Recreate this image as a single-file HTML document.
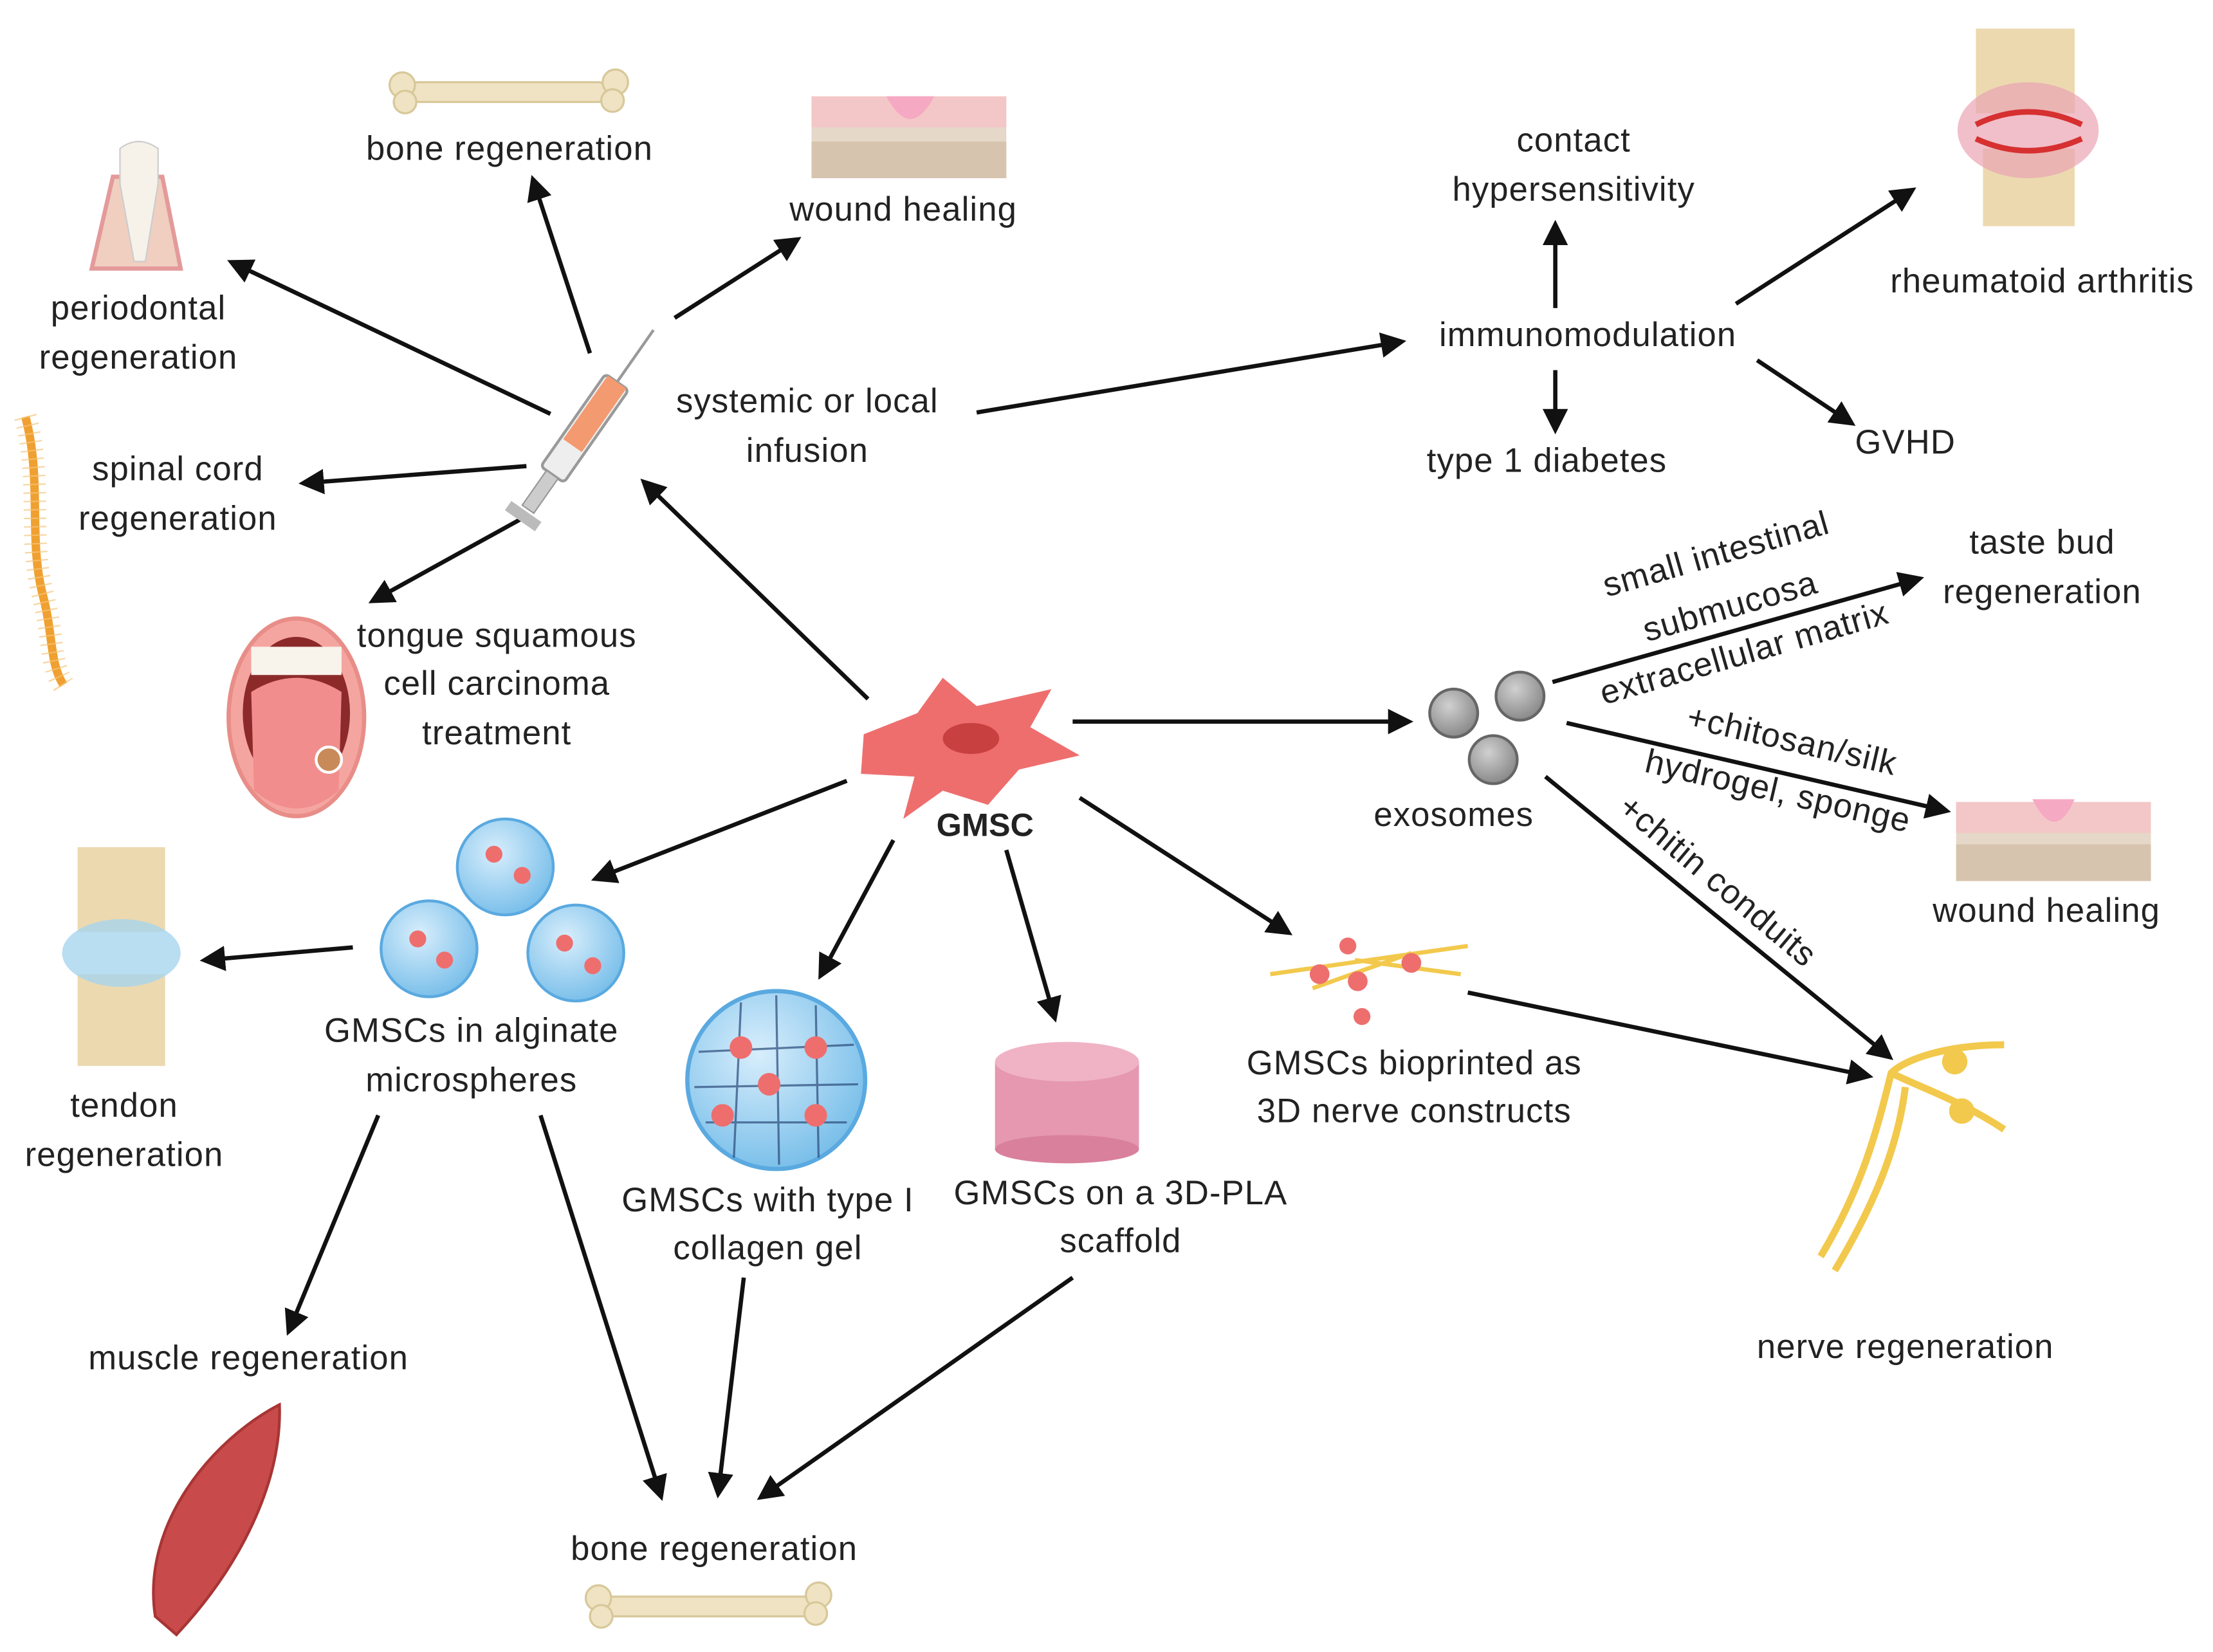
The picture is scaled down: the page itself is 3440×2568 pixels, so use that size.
<!DOCTYPE html>
<html><head><meta charset="utf-8"><style>
html,body{margin:0;padding:0;background:#fff;}
svg{display:block;}
text{font-family:"Liberation Sans",sans-serif;font-size:24px;letter-spacing:0.5px;fill:#222;text-anchor:middle;}
.ln{stroke:#111;stroke-width:3;fill:none;marker-end:url(#ah);}
</style></head><body>
<svg width="3440" height="2568" viewBox="0 0 1568 1170" xmlns="http://www.w3.org/2000/svg">
<defs>
<marker id="ah" markerWidth="6" markerHeight="6" refX="4.5" refY="3" orient="auto" markerUnits="strokeWidth">
<path d="M0,0 L6,3 L0,6 z" fill="#111"/></marker>
<radialGradient id="sph" cx="40%" cy="35%" r="65%"><stop offset="0" stop-color="#d8eefc"/><stop offset="1" stop-color="#7cc0ea"/></radialGradient>
<radialGradient id="gr" cx="40%" cy="35%" r="65%"><stop offset="0" stop-color="#d0d0d0"/><stop offset="1" stop-color="#8a8a8a"/></radialGradient>
</defs>
<rect width="1568" height="1170" fill="#fff"/>

<line class="ln" x1="418" y1="250" x2="378" y2="128"/>
<line class="ln" x1="390" y1="293" x2="165" y2="186"/>
<line class="ln" x1="478" y1="225" x2="564" y2="170"/>
<line class="ln" x1="373" y1="330" x2="216" y2="342"/>
<line class="ln" x1="370" y1="367" x2="265" y2="425"/>
<line class="ln" x1="615" y1="495" x2="457" y2="342"/>
<line class="ln" x1="692" y1="292" x2="992" y2="242"/>
<line class="ln" x1="1102" y1="218" x2="1102" y2="160"/>
<line class="ln" x1="1102" y1="262" x2="1102" y2="303"/>
<line class="ln" x1="1230" y1="215" x2="1354" y2="135"/>
<line class="ln" x1="1245" y1="255" x2="1311" y2="299"/>
<line class="ln" x1="760" y1="511" x2="997" y2="511"/>
<line class="ln" x1="1100" y1="483" x2="1359" y2="410"/>
<line class="ln" x1="1110" y1="512" x2="1378" y2="574"/>
<line class="ln" x1="1095" y1="550" x2="1338" y2="748"/>
<line class="ln" x1="1040" y1="703" x2="1323" y2="762"/>
<line class="ln" x1="765" y1="565" x2="912" y2="660"/>
<line class="ln" x1="713" y1="602" x2="747" y2="720"/>
<line class="ln" x1="633" y1="595" x2="582" y2="690"/>
<line class="ln" x1="600" y1="553" x2="423" y2="622"/>
<line class="ln" x1="250" y1="671" x2="146" y2="680"/>
<line class="ln" x1="268" y1="790" x2="205" y2="942"/>
<line class="ln" x1="383" y1="790" x2="468" y2="1059"/>
<line class="ln" x1="527" y1="905" x2="509" y2="1057"/>
<line class="ln" x1="760" y1="905" x2="540" y2="1060"/>

<g fill="#efe3c3" stroke="#d8c89a" stroke-width="1.5">
<rect x="290" y="58" width="140" height="14" rx="6"/>
<circle cx="285" cy="60" r="9"/><circle cx="287" cy="72" r="8"/>
<circle cx="436" cy="58" r="9"/><circle cx="434" cy="71" r="8"/>
</g>
<g fill="#efe3c3" stroke="#d8c89a" stroke-width="1.5">
<rect x="428" y="1131" width="148" height="14" rx="6"/>
<circle cx="424" cy="1132" r="9"/><circle cx="426" cy="1145" r="8"/>
<circle cx="580" cy="1130" r="9"/><circle cx="578" cy="1143" r="8"/>
</g>
<g>
<rect x="575" y="68" width="138" height="58" fill="#e6d8c8"/>
<rect x="575" y="68" width="138" height="22" fill="#f3c7c7"/>
<path d="M628,68 Q645,100 662,68 z" fill="#f6a9c3"/>
<rect x="575" y="100" width="138" height="26" fill="#d7c4ae"/>
</g>
<g>
<rect x="1386" y="568" width="138" height="56" fill="#e6d8c8"/>
<rect x="1386" y="568" width="138" height="22" fill="#f3c7c7"/>
<path d="M1440,566 Q1456,598 1470,566 z" fill="#f6a9c3"/>
<rect x="1386" y="598" width="138" height="26" fill="#d7c4ae"/>
</g>
<path d="M65,190 L80,125 L115,125 L128,190 z" fill="#f0cfc0" stroke="#e49a9a" stroke-width="3"/>
<path d="M85,105 Q98,95 112,105 L112,130 L103,185 L95,185 L85,130 z" fill="#f6f2ea" stroke="#ccc"/>
<path d="M18,295 C30,340 20,380 30,420 C38,450 35,470 45,485" stroke="#f0a030" stroke-width="6" fill="none"/>
<path d="M18,295 C30,340 20,380 30,420 C38,450 35,470 45,485" stroke="#f4c57a" stroke-width="16" fill="none" stroke-dasharray="1 5" opacity=".7"/>
<g transform="rotate(-55 420 295)">
<rect x="370" y="285" width="80" height="20" rx="3" fill="#eee" stroke="#999" stroke-width="2"/>
<rect x="395" y="287" width="55" height="16" fill="#f49a70"/>
<rect x="340" y="290" width="30" height="10" fill="#ccc" stroke="#999"/>
<rect x="330" y="282" width="8" height="26" fill="#bbb"/>
<line x1="450" y1="295" x2="495" y2="295" stroke="#999" stroke-width="2"/>
</g>
<ellipse cx="210" cy="508" rx="48" ry="70" fill="#f5a5a0" stroke="#e88d88" stroke-width="3"/>
<ellipse cx="210" cy="505" rx="38" ry="54" fill="#8c2a2a"/>
<rect x="178" y="458" width="64" height="20" fill="#f8f4ec"/>
<path d="M178,490 Q210,470 242,490 L240,560 Q210,585 180,560 z" fill="#f28d8d"/>
<circle cx="233" cy="538" r="9" fill="#c98a5a" stroke="#fff" stroke-width="2"/>
<rect x="1400" y="20" width="70" height="60" fill="#ecd9b0"/>
<rect x="1405" y="105" width="65" height="55" fill="#ecd9b0"/>
<ellipse cx="1437" cy="92" rx="50" ry="34" fill="#e9a4b4" opacity=".7"/>
<path d="M1400,88 Q1437,70 1475,88 M1400,98 Q1437,115 1475,98" stroke="#d63030" stroke-width="4" fill="none"/>
<rect x="55" y="600" width="62" height="60" fill="#ecd9b0"/>
<rect x="55" y="690" width="62" height="65" fill="#ecd9b0"/>
<ellipse cx="86" cy="675" rx="42" ry="24" fill="#a8d4ee" opacity=".8"/>
<path d="M612,520 L650,505 L668,480 L692,500 L745,488 L730,515 L765,535 L722,545 L700,570 L668,560 L640,580 L648,550 L610,548 z" fill="#ee6e6e"/>
<ellipse cx="688" cy="523" rx="20" ry="11" fill="#c94040"/>
<text x="698" y="592" style="font-weight:bold;font-size:23px;letter-spacing:0">GMSC</text>
<circle cx="1030" cy="505" r="17" fill="url(#gr)" stroke="#666" stroke-width="2"/>
<circle cx="1077" cy="493" r="17" fill="url(#gr)" stroke="#666" stroke-width="2"/>
<circle cx="1058" cy="538" r="17" fill="url(#gr)" stroke="#666" stroke-width="2"/>
<g fill="url(#sph)" stroke="#5aa9e0" stroke-width="2">
<circle cx="358" cy="614" r="34"/><circle cx="304" cy="672" r="34"/><circle cx="408" cy="675" r="34"/>
</g>
<g fill="#ee6e6e">
<circle cx="350" cy="605" r="6"/><circle cx="370" cy="620" r="6"/><circle cx="296" cy="665" r="6"/><circle cx="315" cy="680" r="6"/><circle cx="400" cy="668" r="6"/><circle cx="420" cy="684" r="6"/>
</g>
<circle cx="550" cy="765" r="63" fill="url(#sph)" stroke="#5aa9e0" stroke-width="3"/>
<g stroke="#2b4a7a" stroke-width="1.5" opacity=".7">
<line x1="495" y1="745" x2="605" y2="740"/><line x1="492" y1="770" x2="608" y2="768"/><line x1="500" y1="795" x2="600" y2="795"/>
<line x1="525" y1="710" x2="520" y2="820"/><line x1="550" y1="705" x2="552" y2="825"/><line x1="578" y1="712" x2="580" y2="820"/>
</g>
<g fill="#ee6e6e"><circle cx="525" cy="742" r="8"/><circle cx="578" cy="742" r="8"/><circle cx="545" cy="768" r="8"/><circle cx="512" cy="790" r="8"/><circle cx="578" cy="790" r="8"/></g>
<rect x="705" y="752" width="102" height="62" fill="#e598b0"/>
<ellipse cx="756" cy="752" rx="51" ry="14" fill="#f0b3c6"/>
<ellipse cx="756" cy="814" rx="51" ry="10" fill="#d9809c"/>
<path d="M900,690 L1040,670 M930,700 L1000,675 M960,680 L1035,690" stroke="#f2c94c" stroke-width="3" fill="none"/>
<g fill="#ee6e6e"><circle cx="935" cy="690" r="7"/><circle cx="962" cy="695" r="7"/><circle cx="1000" cy="682" r="7"/><circle cx="955" cy="670" r="6"/><circle cx="965" cy="720" r="6"/></g>
<path d="M1290,890 C1320,840 1330,800 1340,760 C1350,750 1380,740 1420,740 M1340,760 C1360,770 1390,780 1420,800 M1300,900 C1330,850 1345,810 1350,770" stroke="#f2c94c" stroke-width="5" fill="none"/>
<circle cx="1385" cy="752" r="9" fill="#f2c94c"/><circle cx="1390" cy="787" r="9" fill="#f2c94c"/>
<path d="M110,1145 C100,1080 150,1020 198,995 C200,1050 170,1110 125,1158 z" fill="#c94a4a" stroke="#a83535" stroke-width="2"/>

<text x="361" y="113">bone regeneration</text>
<text x="640" y="156">wound healing</text>
<text x="98" y="226">periodontal</text><text x="98" y="261">regeneration</text>
<text x="126" y="340">spinal cord</text><text x="126" y="375">regeneration</text>
<text x="572" y="292">systemic or local</text><text x="572" y="327">infusion</text>
<text x="352" y="458">tongue squamous</text><text x="352" y="492">cell carcinoma</text><text x="352" y="527">treatment</text>
<text x="1115" y="107">contact</text><text x="1115" y="142">hypersensitivity</text>
<text x="1125" y="245">immunomodulation</text>
<text x="1096" y="334">type 1 diabetes</text>
<text x="1350" y="321">GVHD</text>
<text x="1447" y="207">rheumatoid arthritis</text>
<text x="1447" y="392">taste bud</text><text x="1447" y="427">regeneration</text>
<text x="1030" y="585">exosomes</text>
<text x="1450" y="653">wound healing</text>
<text x="1350" y="962">nerve regeneration</text>
<text x="1002" y="761">GMSCs bioprinted as</text><text x="1002" y="795">3D nerve constructs</text>
<text x="334" y="738">GMSCs in alginate</text><text x="334" y="773">microspheres</text>
<text x="88" y="791">tendon</text><text x="88" y="826">regeneration</text>
<text x="544" y="858">GMSCs with type I</text><text x="544" y="892">collagen gel</text>
<text x="794" y="853">GMSCs on a 3D-PLA</text><text x="794" y="887">scaffold</text>
<text x="176" y="970">muscle regeneration</text>
<text x="506" y="1105">bone regeneration</text>
<text transform="translate(1218,400) rotate(-16)">small intestinal</text>
<text transform="translate(1228,437) rotate(-16)">submucosa</text>
<text transform="translate(1238,470) rotate(-16)">extracellular matrix</text>
<text transform="translate(1268,532) rotate(13)">+chitosan/silk</text>
<text transform="translate(1258,568) rotate(13)">hydrogel, sponge</text>
<text transform="translate(1212,630) rotate(40)">+chitin conduits</text>
</svg>
</body></html>
